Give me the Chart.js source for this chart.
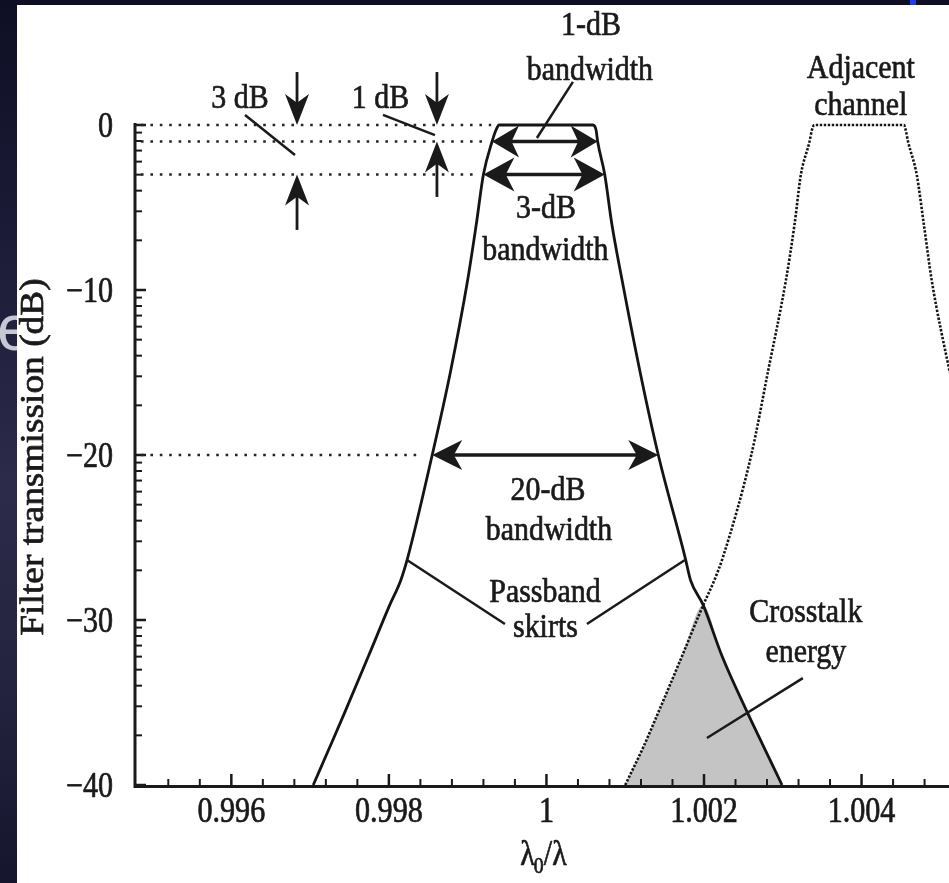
<!DOCTYPE html>
<html>
<head>
<meta charset="utf-8">
<script src="https://cdn.jsdelivr.net/npm/chart.js@4.4.1/dist/chart.umd.min.js"></script>
<style>
html,body{margin:0;padding:0;background:#1b1b34;overflow:hidden}
#wrap{position:relative;width:949px;height:883px}
</style>
</head>
<body>
<div id="wrap"><canvas id="c"></canvas></div>
<script>
// ---------- data ----------
// Main filter passband (solid line): x = lambda0/lambda, y = transmission in dB
const mainX  = [0.99704,0.99725,0.99744,0.99774,0.99801,0.99815,0.99824,0.99855,0.99878,0.99900,0.99911,0.99920,0.99931,0.99936,0.99940,
                1.00059,1.00063,1.00065,1.00074,1.00083,1.00096,1.00119,1.00142,1.00176,1.00183,1.00199,1.00223,1.00255,1.00276,1.00299];
const mainDb = [-40,-37.7,-35.6,-32.2,-29.1,-27.6,-26.2,-20,-15,-9.4,-6,-3,-1,-0.3,0,
                0,-0.3,-1,-3,-6,-9.4,-15,-20,-26.2,-27.6,-29.1,-32.2,-35.6,-37.7,-40];
// Adjacent channel (dotted line)
const adjX  = [1.00100,1.00123,1.00142,1.00172,1.00199,1.00213,1.00224,1.00260,1.00281,1.00304,1.00315,1.00323,1.00334,1.00337,1.00340,
               1.00454,1.00456,1.00459,1.00470,1.00479,1.00489,1.00512,1.00534,1.00569];
const adjDb = [-40,-37.7,-35.6,-32.2,-29.1,-27.6,-26.2,-20,-15,-9.4,-6,-3,-1,-0.3,0,
               0,-0.3,-1,-3,-6,-9.4,-15,-20,-26.2];
// Axes
const xRange = [0.99479, 1.00511];
const yRange = [-40, 0];
const xMajorTicks = [0.996, 0.998, 1, 1.002, 1.004];
const xTickLabels = ['0.996', '0.998', '1', '1.002', '1.004'];
const xMinorTicks = [0.9952,0.9956,0.9964,0.9968,0.9972,0.9976,0.9984,0.9988,0.9992,0.9996,
                     1.0004,1.0008,1.0012,1.0016,1.0024,1.0028,1.0032,1.0036,1.0044,1.0048];
const yMajorTicks = [0, -10, -20, -30, -40];
const yTickLabels = ['0', '\u221210', '\u221220', '\u221230', '\u221240'];
const yMinorSteps = [0.46, 0.97, 1.55, 2.22, 3.01, 3.98, 5.23, 6.99]; // dB below each decade tick
// Reference levels
const refLevels = [0, -1, -3, -20];
const bandwidthLevels = [-1, -3, -20];
const crossDb = -29.1;

// ---------- annotation layout (data coordinates) ----------
const LABELS = [
  ['3 dB', 0.996110, 1.03], ['1 dB', 0.997893, 1.03],
  ['1-dB', 1.000565, 5.45], ['bandwidth', 1.000552, 2.75],
  ['3-dB', 0.999994, -5.64], ['bandwidth', 0.999987, -8.18],
  ['Adjacent', 1.003991, 2.85], ['channel', 1.003991, 0.61],
  ['20-dB', 1.000019, -22.73], ['bandwidth', 1.000032, -25.15],
  ['Passband', 0.999981, -28.91], ['skirts', 0.999987, -31.03],
  ['Crosstalk', 1.003293, -30.12], ['energy', 1.003293, -32.55]
];
const LEADERS = [
  [0.996174, 0.61, 0.996808, -1.82],
  [0.997925, 0.61, 0.998585, -0.61],
  [1.000336, 2.61, 0.999879, -0.79],
  [0.998230, -26.36, 0.999473, -30.24],
  [1.001758, -26.36, 1.000514, -30.24],
  [1.003255, -33.52, 1.002037, -37.15]
];
const VARROWS = [ // x, tail dB, tip dB
  [0.996834, 3.21, 0], [0.996834, -6.36, -3],
  [0.998610, 3.21, 0], [0.998610, -4.36, -1]
];

const FONT = '"Liberation Serif", "Times New Roman", serif';
const INK = '#1a1a1a';

const mainPts = mainX.map((x, i) => ({x, y: mainDb[i]}));
const adjPts = adjX.map((x, i) => ({x, y: adjDb[i]}));
// crosstalk region: under the adjacent channel's rising edge and the main filter's falling edge
const regionPts = adjPts.filter((p, i) => i < adjPts.length / 2 && p.y <= crossDb)
  .concat(mainPts.filter((p, i) => i >= mainPts.length / 2 && p.y < crossDb));

function txt(ctx, s, x, y, align, size, sx) {
  ctx.save();
  ctx.translate(x, y);
  ctx.scale(sx, 1);
  ctx.font = size + 'px ' + FONT;
  ctx.textAlign = align;
  ctx.textBaseline = 'alphabetic';
  ctx.fillStyle = INK;
  ctx.strokeStyle = INK;
  ctx.lineWidth = 0.7;
  ctx.lineJoin = 'round';
  ctx.setLineDash([]);
  ctx.fillText(s, 0, 0);
  ctx.strokeText(s, 0, 0);
  ctx.restore();
}
function head(ctx, tx, ty, dx, dy, len, half) {
  const bx = tx - dx * len, by = ty - dy * len;
  const px = -dy, py = dx;
  ctx.beginPath();
  ctx.moveTo(tx, ty);
  ctx.lineTo(bx + px * half, by + py * half);
  ctx.lineTo(tx - dx * len * 0.72, ty - dy * len * 0.72);
  ctx.lineTo(bx - px * half, by - py * half);
  ctx.closePath();
  ctx.fill();
}
function leftAt(db) { const i = mainDb.indexOf(db); return mainX[i]; }
function rightAt(db) { const i = mainDb.lastIndexOf(db); return mainX[i]; }

const figurePlugin = {
  id: 'figure',
  beforeDraw(chart) {
    const ctx = chart.ctx, W = chart.width, H = chart.height;
    ctx.save();
    const g = ctx.createLinearGradient(0, 0, 0, H);
    g.addColorStop(0, '#0e0e24'); g.addColorStop(0.3, '#1d1d3a');
    g.addColorStop(0.55, '#2c2c4a'); g.addColorStop(0.8, '#22223e'); g.addColorStop(1, '#15152d');
    ctx.fillStyle = g; ctx.fillRect(0, 0, W, H);
    ctx.save(); ctx.beginPath(); ctx.rect(0, 0, 17, H); ctx.clip();
    ctx.fillStyle = '#c8c8d4'; ctx.font = '64px "Liberation Sans", sans-serif';
    ctx.textAlign = 'left'; ctx.textBaseline = 'alphabetic';
    ctx.fillText('e', -3, 350);
    ctx.restore();
    ctx.fillStyle = '#1f3df0'; ctx.fillRect(910, 0, 6, 5);
    ctx.fillStyle = '#ffffff'; ctx.fillRect(17, 5, W - 17, H - 5);
    ctx.restore();
  },
  afterDraw(chart) {
    const ctx = chart.ctx, xs = chart.scales.x, ys = chart.scales.y;
    const X = v => xs.getPixelForValue(v), Y = v => ys.getPixelForValue(v);
    const ca = chart.chartArea;
    ctx.save();
    ctx.strokeStyle = INK; ctx.fillStyle = INK; ctx.lineCap = 'butt';

    // axes lines
    ctx.lineWidth = 3;
    ctx.beginPath(); ctx.moveTo(ca.left - 1, Y(0) - 2); ctx.lineTo(ca.left - 1, Y(-40) + 1.5); ctx.lineTo(chart.width, Y(-40) + 1.5); ctx.stroke();
    // x ticks (inward)
    ctx.lineWidth = 2.5;
    xMajorTicks.forEach(v => { ctx.beginPath(); ctx.moveTo(X(v), Y(-40)); ctx.lineTo(X(v), Y(-40) - 11); ctx.stroke(); });
    ctx.lineWidth = 2;
    xMinorTicks.forEach(v => { ctx.beginPath(); ctx.moveTo(X(v), Y(-40)); ctx.lineTo(X(v), Y(-40) - 6); ctx.stroke(); });
    // y ticks (inward)
    ctx.lineWidth = 2.5;
    yMajorTicks.forEach(v => { ctx.beginPath(); ctx.moveTo(ca.left, Y(v)); ctx.lineTo(ca.left + 10, Y(v)); ctx.stroke(); });
    ctx.lineWidth = 2;
    yMajorTicks.slice(0, 4).forEach(v => yMinorSteps.forEach(s => {
      ctx.beginPath(); ctx.moveTo(ca.left, Y(v - s)); ctx.lineTo(ca.left + 6, Y(v - s)); ctx.stroke();
    }));

    // tick labels
    xMajorTicks.forEach((v, i) => txt(ctx, xTickLabels[i], X(v), Y(-40) + 37, 'center', 35, 0.86));
    yMajorTicks.forEach((v, i) => txt(ctx, yTickLabels[i], ca.left - 23, Y(v) + 12, 'right', 35, 0.86));

    // x title  λ0/λ
    {
      ctx.save();
      ctx.font = '35px ' + FONT;
      const w1 = ctx.measureText('\u03bb').width * 0.86;
      const w3 = ctx.measureText('/\u03bb').width * 0.86;
      ctx.font = '23px ' + FONT;
      const w2 = ctx.measureText('0').width * 0.86;
      ctx.restore();
      const tot = w1 + w2 + w3, x0 = 544 - tot / 2, bl = Y(-40) + 80;
      txt(ctx, '\u03bb', x0, bl, 'left', 35, 0.86);
      txt(ctx, '0', x0 + w1 - 1, bl + 8, 'left', 23, 0.86);
      txt(ctx, '/\u03bb', x0 + w1 + w2 - 1, bl, 'left', 35, 0.86);
    }
    // y title
    ctx.save();
    ctx.translate(43, (Y(0) + Y(-40)) / 2 + 2);
    ctx.rotate(-Math.PI / 2);
    ctx.scale(1.1, 1);
    ctx.font = '34px ' + FONT; ctx.textAlign = 'center'; ctx.textBaseline = 'alphabetic';
    ctx.fillStyle = INK; ctx.strokeStyle = INK; ctx.lineWidth = 0.7;
    ctx.fillText('Filter transmission (dB)', 0, 0);
    ctx.strokeText('Filter transmission (dB)', 0, 0);
    ctx.restore();

    // dotted reference lines
    ctx.save();
    ctx.strokeStyle = '#262626'; ctx.lineWidth = 2.6; ctx.setLineDash([2.6, 6.8]);
    refLevels.forEach(db => {
      const end = X(leftAt(db)) - (db === -20 ? 12 : 8);
      ctx.beginPath(); ctx.moveTo(ca.left + 5, Y(db)); ctx.lineTo(end, Y(db)); ctx.stroke();
    });
    ctx.restore();

    // bandwidth double arrows
    const hs = {'-1': [27, 16], '-3': [31, 17], '-20': [30, 15]};
    bandwidthLevels.forEach(db => {
      const l = X(leftAt(db)), r = X(rightAt(db)), y = Y(db);
      const [len, half] = hs[String(db)];
      ctx.lineWidth = 3.4;
      ctx.beginPath(); ctx.moveTo(l + len * 0.6, y); ctx.lineTo(r - len * 0.6, y); ctx.stroke();
      head(ctx, l, y, -1, 0, len, half);
      head(ctx, r, y, 1, 0, len, half);
    });
    // vertical arrows (3 dB / 1 dB)
    VARROWS.forEach(([x, t, p]) => {
      const px = X(x), ty = Y(t), py = Y(p);
      const dir = py > ty ? 1 : -1;
      ctx.lineWidth = 2.8;
      ctx.beginPath(); ctx.moveTo(px, ty); ctx.lineTo(px, py - dir * 20); ctx.stroke();
      head(ctx, px, py, 0, dir, 31, 12);
    });
    // leader lines
    ctx.lineWidth = 2.5;
    LEADERS.forEach(([x1, y1, x2, y2]) => {
      ctx.beginPath(); ctx.moveTo(X(x1), Y(y1)); ctx.lineTo(X(x2), Y(y2)); ctx.stroke();
    });
    // labels
    LABELS.forEach(([s, x, db]) => txt(ctx, s, X(x), Y(db), 'center', 34, 0.88));
    ctx.restore();
  }
};

new Chart(document.getElementById('c'), {
  type: 'line',
  data: {
    datasets: [
      { label: 'Filter passband', data: mainPts, borderColor: '#141414', borderWidth: 2.8,
        pointRadius: 0, fill: false, cubicInterpolationMode: 'monotone', clip: false, order: 1 },
      { label: 'Adjacent channel', data: adjPts, borderColor: '#141414', borderWidth: 2.6,
        borderDash: [2.4, 1.6], pointRadius: 0, fill: false, cubicInterpolationMode: 'monotone', clip: false, order: 2 },
      { label: 'Crosstalk energy', data: regionPts, borderWidth: 0, borderColor: 'rgba(0,0,0,0)',
        backgroundColor: '#c4c4c4', pointRadius: 0, fill: 'start', cubicInterpolationMode: 'monotone', order: 3 }
    ]
  },
  options: {
    responsive: true, maintainAspectRatio: false, animation: false, events: [],
    layout: { padding: { left: 136, top: 125, right: 0, bottom: 98 } },
    plugins: { legend: { display: false }, tooltip: { enabled: false }, title: { display: false } },
    scales: {
      x: { type: 'linear', min: xRange[0], max: xRange[1], display: false },
      y: { type: 'linear', min: yRange[0], max: yRange[1], display: false }
    }
  },
  plugins: [figurePlugin]
});
</script>
</body>
</html>
